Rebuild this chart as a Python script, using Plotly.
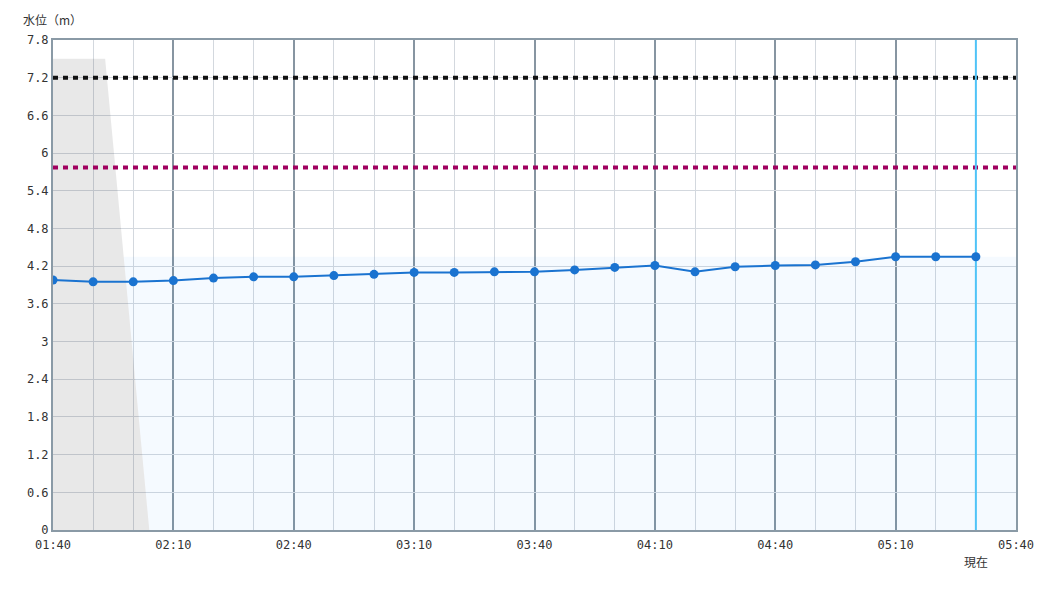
import plotly.graph_objects as go
from datetime import datetime

DAY = "2024-01-01 "
times = ["01:40", "01:50", "02:00", "02:10", "02:20", "02:30", "02:40", "02:50",
         "03:00", "03:10", "03:20", "03:30", "03:40", "03:50", "04:00", "04:10",
         "04:20", "04:30", "04:40", "04:50", "05:00", "05:10", "05:20", "05:30"]
levels = [3.98, 3.95, 3.95, 3.97, 4.01, 4.03, 4.03, 4.05, 4.07, 4.10, 4.10, 4.11,
          4.11, 4.14, 4.18, 4.21, 4.11, 4.19, 4.21, 4.22, 4.27, 4.35, 4.35, 4.35]

x_range = ["01:40", "05:40"]
tick_labels = ["01:40", "02:10", "02:40", "03:10", "03:40", "04:10", "04:40", "05:10", "05:40"]

# gray (past) region polygon
gray_x = ["01:40", "01:40", "01:53", "02:04"]
gray_y = [0, 7.5, 7.5, 0]

current_level = levels[-1]
warning_level = 7.2
caution_level = 5.77

y_max = 7.8
y_step = 0.6


def t(s):
    return DAY + s + ":00"


def dt(s):
    return datetime.strptime(t(s), "%Y-%m-%d %H:%M:%S")


# blue area = current-level band, excluding the gray region (no overlap)
x_top, x_bot = dt(gray_x[2]), dt(gray_x[3])
frac = (gray_y[2] - current_level) / (gray_y[2] - gray_y[3])
x_cross = x_top + (x_bot - x_top) * frac
fmt = "%Y-%m-%d %H:%M:%S"
blue_x = [x_cross.strftime(fmt), t(x_range[1]), t(x_range[1]), x_bot.strftime(fmt)]
blue_y = [current_level, current_level, 0, 0]

fig = go.Figure()

fig.add_trace(go.Scatter(
    x=blue_x, y=blue_y, fill="toself", mode="lines", line=dict(width=0),
    fillcolor="rgba(10,130,255,0.04)", hoverinfo="skip", showlegend=False))

fig.add_trace(go.Scatter(
    x=[t(v) for v in gray_x], y=gray_y, fill="toself", mode="lines",
    line=dict(width=0), fillcolor="rgba(0,0,0,0.09)", hoverinfo="skip", showlegend=False))

# thresholds
fig.add_trace(go.Scatter(
    x=[t(x_range[0]), t(x_range[1])], y=[warning_level, warning_level], mode="lines",
    line=dict(color="#111111", width=4, dash="5px,5px"), showlegend=False))
fig.add_trace(go.Scatter(
    x=[t(x_range[0]), t(x_range[1])], y=[caution_level, caution_level], mode="lines",
    line=dict(color="#a0005f", width=4, dash="5px,5px"), showlegend=False))

# current time line
fig.add_trace(go.Scatter(
    x=[t(times[-1]), t(times[-1])], y=[0, y_max], mode="lines",
    line=dict(color="#4fc3f7", width=2), showlegend=False, hoverinfo="skip"))

# water level line
fig.add_trace(go.Scatter(
    x=[t(v) for v in times], y=levels, mode="lines+markers",
    line=dict(color="#1a73d0", width=2),
    marker=dict(color="#1a73d0", size=9), showlegend=False))

mono = "DejaVu Sans Mono"
fig.update_layout(
    width=1050, height=600,
    margin=dict(l=53, r=34, t=40, b=70, autoexpand=False),
    paper_bgcolor="white", plot_bgcolor="white",
    font=dict(family=mono, size=12, color="#333333"),
    xaxis=dict(
        type="date", range=[t(x_range[0]), t(x_range[1])],
        tickvals=[t(v) for v in tick_labels], ticktext=tick_labels,
        showgrid=True, gridcolor="#8795a1", gridwidth=2,
        minor=dict(dtick=600000, tick0=t(x_range[0]), showgrid=True,
                   gridcolor="#d3d8de", gridwidth=1),
        showline=True, linecolor="#8a9aa6", linewidth=2, mirror=True,
        ticks="", zeroline=False, automargin=False, ticklabelstandoff=3,
        tickfont=dict(family=mono, size=12, color="#333")),
    yaxis=dict(
        range=[0, y_max], dtick=y_step, tick0=0,
        showgrid=True, gridcolor="#d3d8de", gridwidth=1,
        showline=True, linecolor="#8a9aa6", linewidth=2, mirror=True,
        ticks="", zeroline=False, automargin=False,
        tickfont=dict(family=mono, size=12, color="#333")),
    annotations=[
        dict(text="水位（m）", xref="paper", yref="paper", x=-0.033, y=1.041,
             xanchor="left", yanchor="middle", showarrow=False,
             font=dict(family="Noto Sans CJK JP", size=12, color="#333")),
        dict(text="現在", xref="x", yref="paper", x=t(times[-1]), y=-0.065,
             xanchor="center", yanchor="middle", showarrow=False,
             font=dict(family="Noto Sans CJK JP", size=12, color="#333")),
    ],
)

fig.write_html("out.html", config={"displayModeBar": False},
               post_script="document.body.style.margin='0';")
